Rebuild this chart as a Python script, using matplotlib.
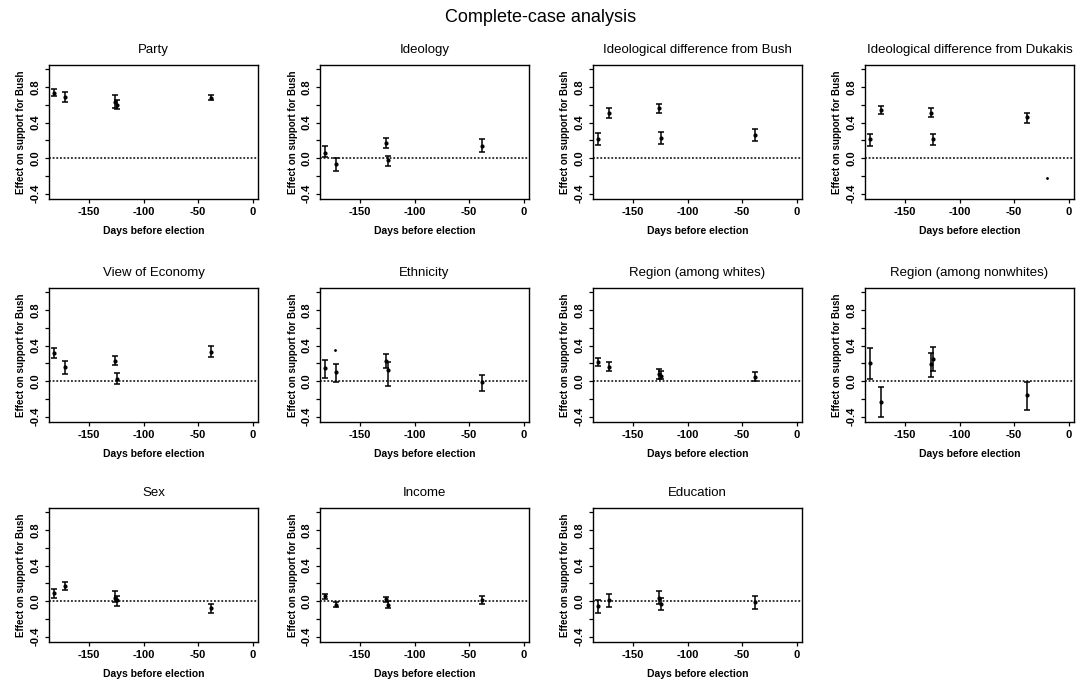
"""Small-multiple error-bar panels: complete-case analysis of effects on Bush support."""

import matplotlib
matplotlib.use("Agg")
import matplotlib.pyplot as plt

plt.rcParams["font.family"] = ["Liberation Sans", "DejaVu Sans"]
plt.rcParams["axes.unicode_minus"] = False

# days before election for the five estimates in every panel
DAYS = [-182, -172, -126, -124.5, -38]

party_est = [0.74, 0.69, 0.63, 0.60, 0.68]
party_lo = [0.70, 0.63, 0.56, 0.55, 0.65]
party_hi = [0.78, 0.75, 0.71, 0.66, 0.71]

ideology_est = [0.06, -0.07, 0.17, -0.02, 0.14]
ideology_lo = [0.01, -0.14, 0.11, -0.09, 0.07]
ideology_hi = [0.14, 0.00, 0.23, 0.03, 0.22]

bush_est = [0.22, 0.51, 0.56, 0.23, 0.26]
bush_lo = [0.15, 0.45, 0.51, 0.16, 0.19]
bush_hi = [0.28, 0.56, 0.61, 0.29, 0.33]

dukakis_est = [0.22, 0.54, 0.51, 0.22, 0.46]
dukakis_lo = [0.14, 0.50, 0.46, 0.15, 0.40]
dukakis_hi = [0.27, 0.59, 0.56, 0.27, 0.51]

economy_est = [0.32, 0.16, 0.23, 0.03, 0.33]
economy_lo = [0.26, 0.08, 0.18, -0.03, 0.27]
economy_hi = [0.37, 0.23, 0.28, 0.09, 0.40]

ethnicity_est = [0.15, 0.10, 0.23, 0.13, -0.01]
ethnicity_lo = [0.04, -0.01, 0.15, -0.05, -0.11]
ethnicity_hi = [0.24, 0.19, 0.31, 0.22, 0.07]

whites_est = [0.22, 0.16, 0.08, 0.06, 0.05]
whites_lo = [0.17, 0.11, 0.03, 0.02, 0.00]
whites_hi = [0.26, 0.22, 0.14, 0.11, 0.10]

nonwhites_est = [0.20, -0.24, 0.19, 0.25, -0.16]
nonwhites_lo = [0.03, -0.40, 0.05, 0.12, -0.33]
nonwhites_hi = [0.37, -0.07, 0.32, 0.39, -0.01]

sex_est = [0.09, 0.17, 0.04, 0.01, -0.08]
sex_lo = [0.04, 0.13, -0.01, -0.05, -0.13]
sex_hi = [0.14, 0.22, 0.11, 0.06, -0.03]

income_est = [0.055, -0.04, 0.02, -0.04, 0.01]
income_lo = [0.02, -0.07, -0.01, -0.08, -0.03]
income_hi = [0.08, -0.01, 0.045, 0.00, 0.055]

education_est = [-0.055, 0.01, 0.04, -0.03, -0.01]
education_lo = [-0.13, -0.07, -0.03, -0.10, -0.085]
education_hi = [0.01, 0.08, 0.11, 0.04, 0.06]

# stray specks visible in the scan
dukakis_speck = (-20, -0.22)
ethnicity_speck = (-173, 0.35)

PANELS = [
    ("Party", party_est, party_lo, party_hi, None),
    ("Ideology", ideology_est, ideology_lo, ideology_hi, None),
    ("Ideological difference from Bush", bush_est, bush_lo, bush_hi, None),
    ("Ideological difference from Dukakis", dukakis_est, dukakis_lo, dukakis_hi, dukakis_speck),
    ("View of Economy", economy_est, economy_lo, economy_hi, None),
    ("Ethnicity", ethnicity_est, ethnicity_lo, ethnicity_hi, ethnicity_speck),
    ("Region (among whites)", whites_est, whites_lo, whites_hi, None),
    ("Region (among nonwhites)", nonwhites_est, nonwhites_lo, nonwhites_hi, None),
    ("Sex", sex_est, sex_lo, sex_hi, None),
    ("Income", income_est, income_lo, income_hi, None),
    ("Education", education_est, education_lo, education_hi, None),
]

W, H = 1081, 681
COL_LEFT = [49, 320, 593, 865]
ROW_TOP = [65, 288, 508]
AX_W, AX_H = 209, 134

fig = plt.figure(figsize=(W / 100, H / 100), dpi=100)
fig.text(0.5, 1 - 18 / H, "Complete-case analysis", ha="center", va="center", fontsize=13)

for i, (title, est, lo, hi, speck) in enumerate(PANELS):
    r, c = divmod(i, 4)
    left = COL_LEFT[c] / W
    bottom = 1 - (ROW_TOP[r] + AX_H) / H
    ax = fig.add_axes([left, bottom, AX_W / W, AX_H / H])

    yerr = [[e - l for e, l in zip(est, lo)], [h - e for e, h in zip(est, hi)]]
    ax.errorbar(DAYS, est, yerr=yerr, fmt="o", ms=2, color="black",
                ecolor="black", elinewidth=1.1, capsize=2, capthick=1.1)
    if speck is not None:
        ax.plot([speck[0]], [speck[1]], "o", ms=1, color="black")
    ax.axhline(0, color="black", linestyle=(0, (1.2, 1.2)), linewidth=1.1)

    ax.set_xlim(-187, 5)
    ax.set_ylim(-0.46, 1.05)
    ax.set_xticks([-150, -100, -50, 0])
    ax.set_yticks([-0.4, 0.0, 0.4, 0.8])
    ax.set_yticks([-0.2, 0.2, 0.6, 1.0], minor=True)
    ax.set_yticklabels(["-0.4", "0.0", "0.4", "0.8"], rotation=90, va="center")
    ax.tick_params(axis="both", labelsize=8, length=3, width=0.9, pad=3)
    ax.tick_params(axis="y", which="minor", length=3, width=0.9)
    for lab in ax.get_xticklabels() + ax.get_yticklabels():
        lab.set_fontweight("bold")
    for sp in ax.spines.values():
        sp.set_linewidth(1.0)

    ax.set_title(title, fontsize=9.5, pad=9)
    ax.set_xlabel("Days before election", fontsize=7.5, fontweight="bold", labelpad=6)
    ax.set_ylabel("Effect on support for Bush", fontsize=7, fontweight="bold", labelpad=3)

fig.savefig("out.png", dpi=100)
plt.close(fig)
